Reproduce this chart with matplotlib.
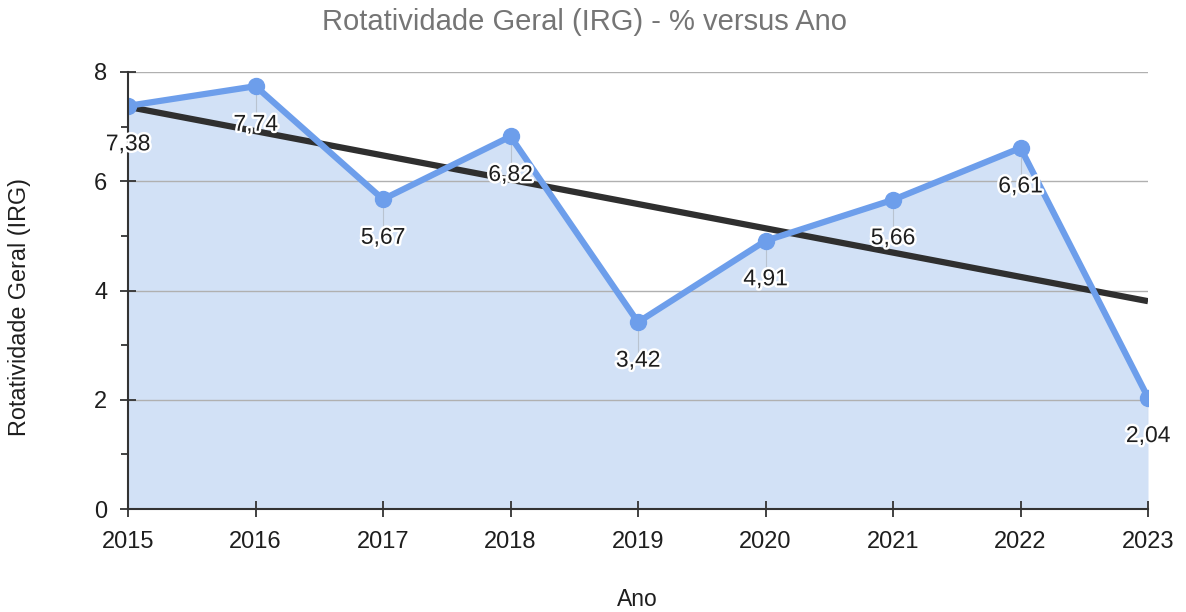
import matplotlib
matplotlib.use("Agg")
import matplotlib.pyplot as plt
import matplotlib.patheffects as pe
import numpy as np

plt.rcParams['font.family'] = ['Liberation Sans', 'DejaVu Sans']

years = [2015, 2016, 2017, 2018, 2019, 2020, 2021, 2022, 2023]
values = [7.38, 7.74, 5.67, 6.82, 3.42, 4.91, 5.66, 6.61, 2.04]
labels = ["7,38", "7,74", "5,67", "6,82", "3,42", "4,91", "5,66", "6,61", "2,04"]
title = "Rotatividade Geral (IRG) - % versus Ano"
xlabel = "Ano"
ylabel = "Rotatividade Geral (IRG)"

fig = plt.figure(figsize=(11.86, 6.12), dpi=100)
ax = fig.add_axes([128/1186, 1-509/612, (1148-128)/1186, (509-72)/612])

x = np.array(years)
y = np.array(values)
ax.fill_between(x, 0, y, color='#d2e1f6', zorder=1, linewidth=0)
ax.plot(x, y, color='#6d9eeb', lw=4.5, marker='o', ms=11.5, zorder=4, clip_on=True)

coef = np.polyfit(x, y, 1)
ax.plot(x, np.polyval(coef, x), color='#2f2f2f', lw=4.5, zorder=3, solid_capstyle='butt')

for xi, yi, lab in zip(x, y, labels):
    ax.plot([xi, xi], [yi, yi - 0.55], color='#b9c3d0', lw=0.8, zorder=2)
    ax.annotate(lab, (xi, yi), xytext=(0, -38), textcoords='offset pixels',
                ha='center', va='center', fontsize=16.5, color='#1e1e1e', zorder=6,
                annotation_clip=False,
                path_effects=[pe.withStroke(linewidth=3.5, foreground='white')])

ax.set_xlim(2015, 2023)
ax.set_ylim(0, 8)
ax.set_xticks(years)
ax.set_xticklabels([str(v) for v in years])
ax.set_yticks([0, 2, 4, 6, 8])
ax.set_yticks([1, 3, 5, 7], minor=True)
ax.grid(axis='y', which='major', color='#b0b0b0', lw=1)
for gl in ax.get_ygridlines():
    gl.set_zorder(1.5)

for s in ['top', 'right']:
    ax.spines[s].set_visible(False)
for s in ['left', 'bottom']:
    ax.spines[s].set_color('#333333')
    ax.spines[s].set_linewidth(1.5)
    ax.spines[s].set_zorder(5)

ax.tick_params(axis='y', which='major', direction='inout', length=12, width=1.3, color='#333333',
               labelsize=17, pad=9, labelcolor='#1e1e1e')
ax.tick_params(axis='y', which='minor', direction='out', length=5, width=1.3, color='#333333')
ax.tick_params(axis='x', which='major', direction='inout', length=12, width=1.3, color='#333333',
               labelsize=17, pad=10, labelcolor='#1e1e1e')

fig.text(585/1186, 1-22/612, title, ha='center', va='center', fontsize=21, color='#757575')
fig.text(637/1186, 1-600/612, xlabel, ha='center', va='center', fontsize=16.5, color='#1e1e1e')
fig.text(20/1186, 1-307/612, ylabel, ha='center', va='center', rotation=90, fontsize=16.8, color='#1e1e1e')

fig.savefig('out.png', dpi=100)
